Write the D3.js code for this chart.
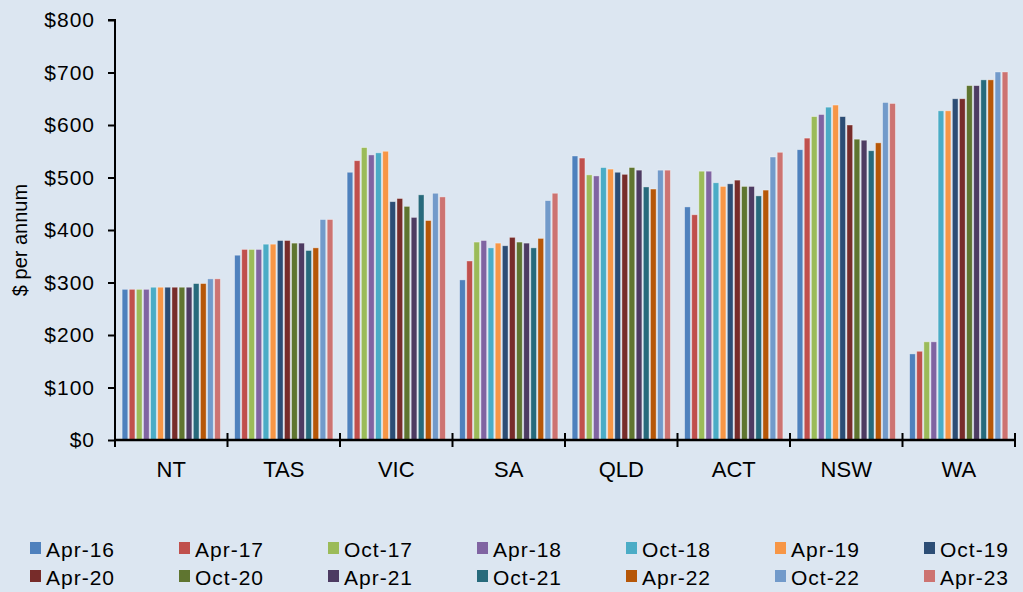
<!DOCTYPE html>
<html>
<head>
<meta charset="utf-8">
<script src="https://cdn.jsdelivr.net/npm/d3@7"></script>
<style>
  html, body { margin: 0; padding: 0; background: #dce6f1; }
  svg { display: block; }
  text { font-family: "Liberation Sans", Arial, Helvetica, sans-serif; fill: #000; }
</style>
</head>
<body>
<svg id="chart" width="1023" height="592"></svg>
<script>
const categories = ["NT", "TAS", "VIC", "SA", "QLD", "ACT", "NSW", "WA"];
const seriesNames = ["Apr-16", "Apr-17", "Oct-17", "Apr-18", "Oct-18", "Apr-19", "Oct-19",
                     "Apr-20", "Oct-20", "Apr-21", "Oct-21", "Apr-22", "Oct-22", "Apr-23"];
const seriesColors = ["#4f81bd", "#c0504d", "#9bbb59", "#8064a2", "#4bacc6", "#f79646", "#2c4d75",
                      "#772c2a", "#5f7530", "#4d3b62", "#276a7c", "#b65708", "#729aca", "#cd7371"];
// values per series, in category order NT, TAS, VIC, SA, QLD, ACT, NSW, WA
const apr16 = [287, 352, 510, 305, 541, 444, 553, 164];
const apr17 = [287, 363, 532, 341, 537, 429, 575, 169];
const oct17 = [287, 363, 557, 377, 505, 512, 616, 187];
const apr18 = [287, 363, 543, 380, 503, 512, 620, 187];
const oct18 = [291, 373, 547, 366, 519, 490, 634, 627];
const apr19 = [291, 373, 550, 375, 516, 483, 638, 627];
const oct19 = [291, 380, 454, 370, 510, 488, 616, 650];
const apr20 = [291, 380, 460, 386, 506, 495, 600, 650];
const oct20 = [291, 375, 445, 377, 519, 483, 573, 675];
const apr21 = [291, 375, 424, 375, 514, 483, 571, 675];
const oct21 = [298, 361, 467, 366, 482, 465, 551, 686];
const apr22 = [298, 366, 418, 384, 478, 476, 566, 686];
const oct22 = [307, 420, 470, 456, 514, 539, 643, 701];
const apr23 = [307, 420, 463, 470, 514, 548, 641, 701];
const seriesValues = [apr16, apr17, oct17, apr18, oct18, apr19, oct19,
                      apr20, oct20, apr21, oct21, apr22, oct22, apr23];
const yTicks = [0, 100, 200, 300, 400, 500, 600, 700, 800];

const svg = d3.select("#chart");
const plot = { left: 115, right: 1015, top: 20, bottom: 440 };

const x0 = d3.scaleBand().domain(categories).range([plot.left, plot.right]).padding(0);
const x1 = d3.scaleBand().domain(seriesNames).range([0, x0.bandwidth()])
  .paddingInner(0.2).paddingOuter(1.0);
const y = d3.scaleLinear().domain([0, 800]).range([plot.bottom, plot.top]);

// bars
const groups = svg.append("g").selectAll("g")
  .data(categories).join("g")
  .attr("transform", d => `translate(${x0(d)},0)`);
groups.selectAll("rect")
  .data((c, ci) => seriesNames.map((s, si) => ({ s, si, v: seriesValues[si][ci] })))
  .join("rect")
  .attr("x", d => x1(d.s))
  .attr("y", d => y(d.v))
  .attr("width", x1.bandwidth())
  .attr("height", d => y(0) - y(d.v))
  .attr("fill", d => seriesColors[d.si])
  .attr("stroke", "rgba(255,255,255,0.45)")
  .attr("stroke-width", 0.8);

// y axis
const yAxis = d3.axisLeft(y).tickValues(yTicks).tickFormat(d => "$" + d)
  .tickSize(7).tickPadding(13);
const ya = svg.append("g").attr("transform", `translate(${plot.left},0)`).call(yAxis);
ya.select(".domain").attr("stroke", "#000").attr("stroke-width", 2).attr("d", `M-7,${plot.top}H0V${plot.bottom}`);
ya.selectAll(".tick line").attr("stroke", "#000").attr("stroke-width", 2);
ya.selectAll(".tick text").style("font-size", "21px").style("letter-spacing", "1px")
  .style("font-family", "'Liberation Sans', Arial, sans-serif").attr("fill", "#000");

// x axis
const xAxis = d3.axisBottom(x0).tickSize(0).tickPadding(0);
const xa = svg.append("g").attr("transform", `translate(0,${plot.bottom})`).call(xAxis);
xa.select(".domain").attr("stroke", "#000").attr("stroke-width", 2.5)
  .attr("d", `M${plot.left},0H${plot.right}`);
xa.selectAll(".tick text").attr("y", 37).attr("dy", 0)
  .style("font-size", "22px").style("font-family", "'Liberation Sans', Arial, sans-serif").attr("fill", "#000");
// category separator ticks crossing the axis
const sepPositions = categories.map(c => x0(c)).concat([plot.right]);
xa.append("g").selectAll("line").data(sepPositions).join("line")
  .attr("x1", d => d).attr("x2", d => d).attr("y1", -7).attr("y2", 7)
  .attr("stroke", "#000").attr("stroke-width", 2);

// y title
svg.append("text")
  .attr("transform", "translate(27,240) rotate(-90)")
  .attr("text-anchor", "middle")
  .style("font-size", "20px")
  .text("$ per annum");

// legend
const legend = svg.append("g");
const items = legend.selectAll("g").data(seriesNames).join("g")
  .attr("transform", (d, i) => `translate(${30 + (i % 7) * 149},${i < 7 ? 542 : 570})`);
items.append("rect").attr("width", 11).attr("height", 12)
  .attr("fill", (d, i) => seriesColors[i]);
items.append("text").attr("x", 16).attr("y", 15)
  .style("font-size", "21px").style("letter-spacing", "1px")
  .text(d => d);
</script>
</body>
</html>
